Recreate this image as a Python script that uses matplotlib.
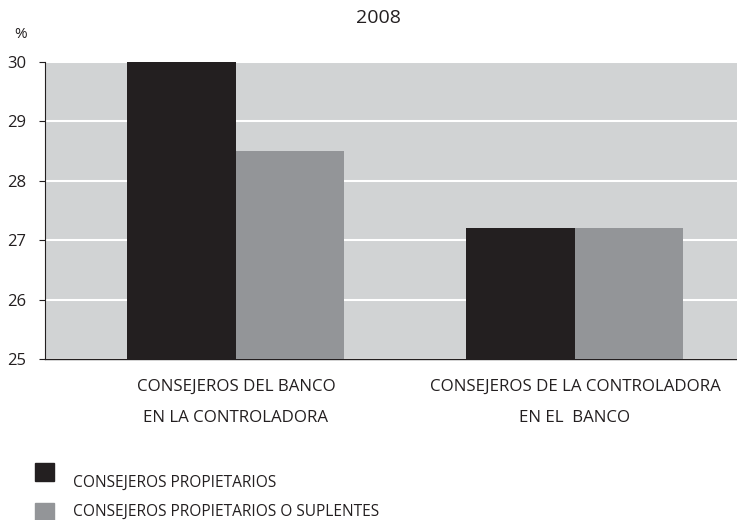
import matplotlib
matplotlib.use("Agg")
import matplotlib.pyplot as plt
from matplotlib.patches import Rectangle

categories = ["CONSEJEROS DEL BANCO\nEN LA CONTROLADORA",
              "CONSEJEROS DE LA CONTROLADORA\nEN EL  BANCO"]
series_names = ["CONSEJEROS PROPIETARIOS", "CONSEJEROS PROPIETARIOS O SUPLENTES"]
propietarios = [30.0, 27.2]
suplentes = [28.5, 27.2]
yticks = [25, 26, 27, 28, 29, 30]
title = "2008"

plt.rcParams['font.family'] = ['Open Sans', 'DejaVu Sans']
text_color = "#231f20"
dark = "#231f20"
gray = "#939598"
bg = "#d1d3d4"

fig = plt.figure(figsize=(7.37, 5.2), dpi=100)
ax = fig.add_axes([45/737, 1-359/520, 1-45/737, (359-62)/520])
ax.set_facecolor(bg)

x = [0, 1]
w = 0.32
ax.bar([xi - w/2 for xi in x], propietarios, width=w, color=dark, zorder=3)
ax.bar([xi + w/2 for xi in x], suplentes, width=w, color=gray, zorder=3)

ax.set_ylim(25, 30)
ax.set_xlim(-0.563, 1.478)
ax.set_yticks(yticks)
ax.set_yticklabels([str(t) for t in yticks], fontsize=12, color=text_color)
ax.yaxis.grid(True, color="white", linewidth=1.5, zorder=1)
ax.set_axisbelow(True)

ax.set_xticks(x)
ax.set_xticklabels(categories, fontsize=12.2, color=text_color, linespacing=2.3)
ax.tick_params(axis='x', length=0, pad=14)
ax.tick_params(axis='y', length=4.5, width=0.8, color=text_color, pad=9)

for s in ["top", "right"]:
    ax.spines[s].set_visible(False)
ax.spines["left"].set_color(text_color)
ax.spines["left"].set_linewidth(0.8)
ax.spines["bottom"].set_color(text_color)
ax.spines["bottom"].set_linewidth(1.0)
ax.spines["bottom"].set_zorder(2)

fig.text(378/737, 1-18/520, title, ha="center", va="center", fontsize=14, color=text_color)
fig.text(21/737, 1-35/520, "%", ha="center", va="center", fontsize=11, color=text_color)

# legend
sq_tops = [463, 503]
txt_y = [483, 512]
for name, col, t, ty in zip(series_names, [dark, gray], sq_tops, txt_y):
    fig.patches.append(Rectangle((35/737, 1-(t+18)/520), 19/737, 18/520,
                                 transform=fig.transFigure, color=col, figure=fig))
    fig.text(73/737, 1-ty/520, name, ha="left", va="center",
             fontsize=11.2, color=text_color)

fig.savefig("out.png", dpi=100)
